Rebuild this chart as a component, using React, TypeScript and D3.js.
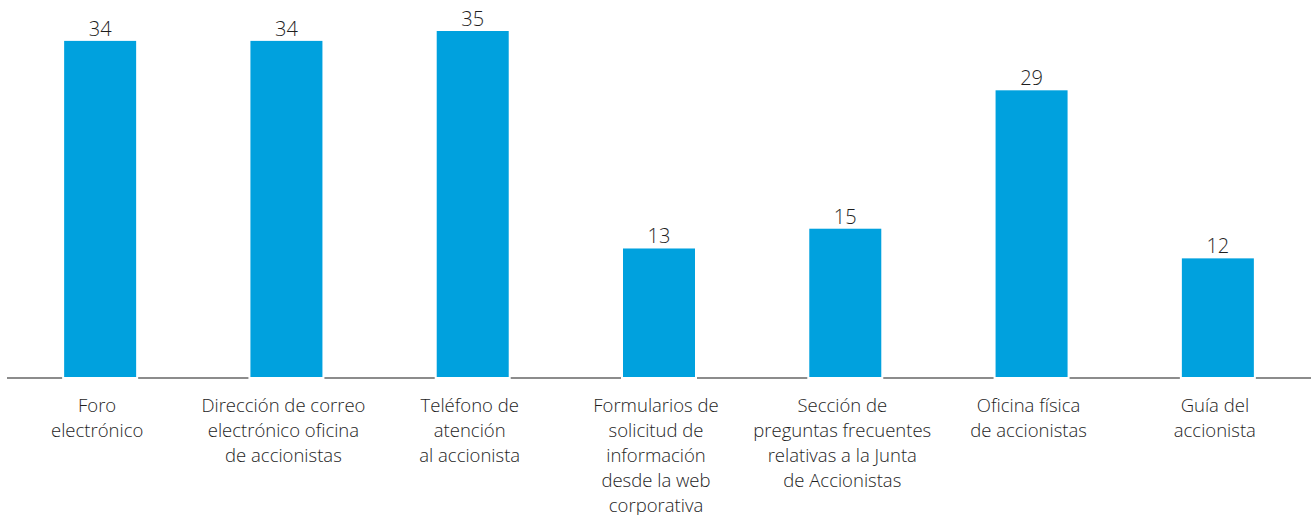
import { scaleBand, scaleLinear } from "d3";

const categories = [
  "Foro electrónico",
  "Dirección de correo electrónico oficina de accionistas",
  "Teléfono de atención al accionista",
  "Formularios de solicitud de información desde la web corporativa",
  "Sección de preguntas frecuentes relativas a la Junta de Accionistas",
  "Oficina física de accionistas",
  "Guía del accionista",
];

// label lines as they wrap in the original
const labelLines = [
  ["Foro", "electrónico"],
  ["Dirección de correo", "electrónico oficina", "de accionistas"],
  ["Teléfono de", "atención", "al accionista"],
  ["Formularios de", "solicitud de", "información", "desde la web", "corporativa"],
  ["Sección de", "preguntas frecuentes", "relativas a la Junta", "de Accionistas"],
  ["Oficina física", "de accionistas"],
  ["Guía del", "accionista"],
];

const values = [34, 34, 35, 13, 15, 29, 12];

const width = 1313;
const height = 515;
const baseY = 377;

export default function App() {
  const x = scaleBand<string>()
    .domain(categories)
    .range([7, 1311])
    .paddingInner(0.6135)
    .paddingOuter(0.6135 / 2);

  const y = scaleLinear().domain([0, 35]).range([baseY, 31]);

  const bw = x.bandwidth();

  // baseline pieces between bars, leaving a small gap at each bar edge
  const edges = [x.range()[0] - 2];
  categories.forEach((c) => {
    edges.push(x(c)!, x(c)! + bw);
  });
  edges.push(x.range()[1] + 2);
  const segments: [number, number][] = [];
  for (let i = 0; i < edges.length; i += 2) {
    segments.push([edges[i] + 2, edges[i + 1] - 2]);
  }

  return (
    <svg
      width={width}
      height={height}
      style={{ position: "absolute", left: 0, top: 0, display: "block" }}
      fontFamily="'Open Sans', 'Noto Sans', sans-serif"
      fontWeight={350}
    >
      {categories.map((c, i) => (
        <g key={c}>
          <rect
            x={x(c)}
            y={y(values[i])}
            width={bw}
            height={baseY - y(values[i])}
            fill="#00a1de"
          />
          <text
            x={x(c)! + bw / 2}
            y={y(values[i]) - 5}
            textAnchor="middle"
            fontSize={20}
            fill="#1e1e1e"
          >
            {values[i]}
          </text>
          <text textAnchor="middle" fontSize={18.5} fill="#1e1e1e">
            {labelLines[i].map((ln, j) => (
              <tspan key={j} x={x(c)! + bw / 2 - 3} y={412 + j * 25}>
                {ln}
              </tspan>
            ))}
          </text>
        </g>
      ))}
      {segments.map(([a, b], i) => (
        <line
          key={i}
          x1={a}
          x2={b}
          y1={baseY + 1}
          y2={baseY + 1}
          stroke="#666"
          strokeWidth={1.5}
        />
      ))}
    </svg>
  );
}
